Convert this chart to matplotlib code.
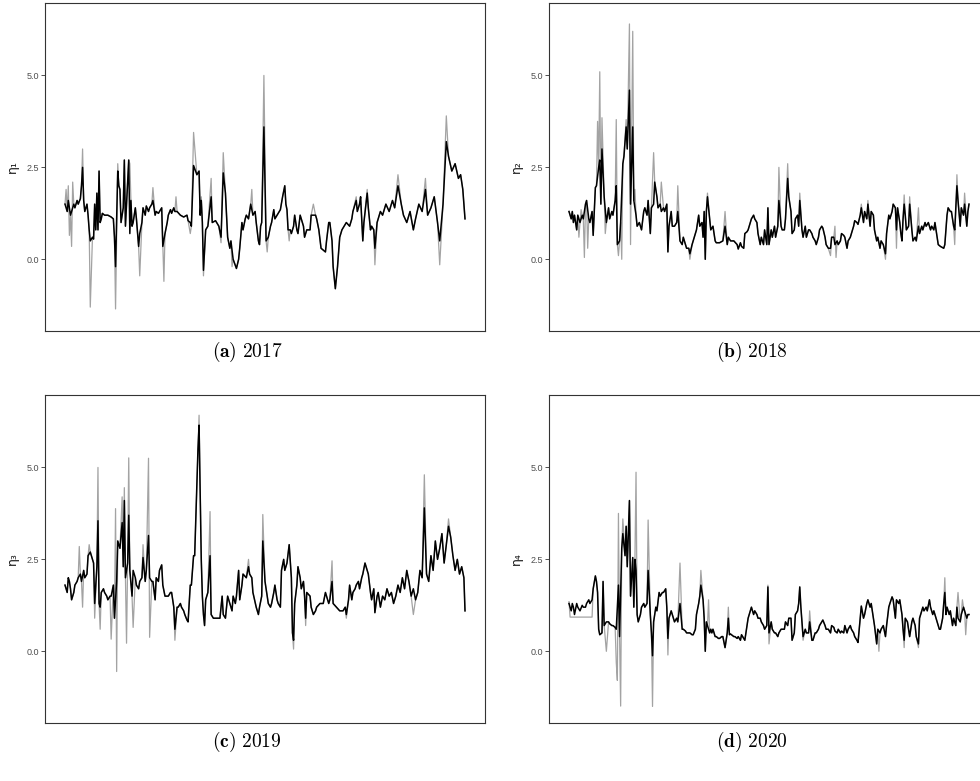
import matplotlib
matplotlib.use("Agg")
import matplotlib.pyplot as plt

# ---------------- data (day of year, value) ----------------
A_BLACK = [(1,1.5),(3,1.3),(4,1.6),(6,1.2),(7,1.3),(9,1.5),(10,1.4),(12,1.6),(13,1.5),(15,1.65),
 (16,2.0),(17,2.5),(18,1.6),(19,1.3),(21,1.5),(22,1.2),(23,0.8),(24,0.5),(26,0.6),(27,0.55),
 (28,1.5),(29,0.8),(30,1.8),(31,0.8),(32,2.4),(33,1.0),(34,1.1),(35,1.25),(37,1.2),(40,1.2),
 (43,1.15),(45,1.1),(46,0.6),(47,-0.2),(49,2.4),(50,2.0),(51,1.9),(52,1.0),(54,1.4),(55,2.7),
 (56,0.9),(57,1.5),(59,2.7),(60,0.7),(61,1.6),(62,0.9),(63,1.0),(65,1.4),(66,1.1),(68,0.35),
 (69,0.7),(71,1.0),(72,1.4),(74,1.2),(75,1.45),(77,1.3),(78,1.4),(80,1.5),(81,1.6),(83,1.2),
 (84,1.3),(86,1.25),(87,1.3),(89,1.4),(90,0.35),(92,0.7),(94,1.0),(95,1.2),(97,1.35),(98,1.25),
 (100,1.4),(101,1.3),(103,1.3),(106,1.2),(109,1.15),(112,1.2),(113,1.05),(115,1.0),(116,0.9),(118,2.55),
 (121,2.3),(123,2.4),(124,1.2),(125,1.6),(126,1.0),(127,-0.3),(129,0.8),(131,0.9),(134,1.7),(135,1.0),
 (138,1.05),(141,0.9),(143,0.6),(145,2.35),(147,1.8),(149,0.6),(151,0.3),(152,0.5),(154,0.0),(157,-0.25),
 (159,0.0),(160,0.3),(162,1.0),(163,0.8),(165,1.1),(166,1.2),(168,1.1),(170,1.5),(172,1.2),(174,1.3),
 (175,1.0),(177,0.5),(178,0.4),(179,0.9),(180,1.0),(182,3.6),(184,0.5),(186,0.6),(188,0.9),(189,1.0),
 (191,1.35),(192,1.1),(194,1.2),(197,1.35),(199,1.7),(201,2.0),(202,1.5),(203,1.35),(204,0.8),(206,0.8),
 (207,0.7),(209,0.9),(210,1.2),(212,0.8),(213,0.7),(215,1.2),(218,0.9),(219,0.6),(221,0.8),(224,0.8),
 (225,1.2),(229,1.2),(230,1.1),(232,0.8),(234,0.3),(236,0.25),(238,0.2),(239,0.5),(241,1.0),(242,1.0),
 (244,0.5),(245,-0.2),(247,-0.8),(249,-0.2),(251,0.6),(253,0.8),(255,0.9),(257,1.0),(260,0.9),(262,1.1),
 (263,1.3),(266,1.6),(267,1.3),(269,1.5),(270,1.7),(272,0.5),(273,1.0),(276,1.8),(277,1.4),(279,0.8),
 (280,0.9),(282,0.8),(283,0.3),(285,1.0),(286,1.1),(288,1.3),(290,1.2),(293,1.5),(296,1.3),(299,1.6),
 (301,1.4),(304,2.0),(307,1.5),(309,1.2),(312,1.0),(315,1.3),(318,0.8),(320,1.1),(323,1.5),(326,1.3),
 (329,1.9),(331,1.2),(334,1.4),(337,1.7),(340,1.0),(342,0.5),(345,1.5),(348,3.2),(350,2.8),(353,2.4),
 (356,2.6),(359,2.2),(361,2.3),(363,1.9),(365,1.1)]
A_GRAY_SPIKES = {2:1.9, 4:2.0, 5:0.65, 7:0.35, 8:2.1, 17:3.0, 24:-1.3, 47:-1.35, 49:2.6, 60:2.6,
 69:-0.45, 81:1.95, 91:-0.6, 102:1.7, 115:0.7, 118:3.45, 125:1.7, 127:-0.45, 134:2.2, 143:0.45,
 145:2.9, 153:-0.2, 171:1.9, 182:5.0, 185:0.2, 205:0.5, 227:1.5, 266:1.7, 276:1.9, 283:-0.15,
 304:2.3, 329:2.2, 342:-0.15, 348:3.9}

B_BLACK = [(1,1.3),(3,1.1),(4,1.3),(5,1.0),(6,1.2),(8,0.8),(9,1.2),(11,1.0),(13,1.2),(14,1.1),
 (16,1.5),(17,1.6),(19,1.1),(20,1.0),(22,1.3),(23,0.65),(25,1.95),(26,2.0),(28,2.5),(29,2.7),
 (30,1.5),(31,3.0),(33,1.7),(35,1.0),(37,1.4),(38,1.1),(40,1.3),(41,1.2),(43,1.6),(44,2.0),
 (45,0.4),(47,0.5),(48,1.0),(50,2.6),(51,2.8),(53,3.6),(54,3.0),(56,4.6),(57,1.5),(59,3.6),
 (60,1.6),(62,1.2),(63,0.9),(65,1.0),(67,0.8),(69,1.3),(70,1.4),(72,1.2),(73,1.6),(75,0.7),
 (76,1.4),(78,1.5),(79,2.1),(81,1.7),(82,1.4),(84,1.5),(85,1.3),(87,1.4),(88,1.3),(90,1.5),
 (91,0.2),(92,0.9),(94,1.3),(95,0.9),(97,0.9),(99,1.0),(100,1.3),(102,0.5),(104,0.4),(105,0.6),
 (107,0.4),(108,0.3),(110,0.3),(111,0.15),(113,0.4),(114,0.5),(116,0.7),(117,0.8),(119,1.2),(120,0.9),
 (122,1.0),(123,0.6),(124,1.3),(125,0.0),(126,1.3),(127,1.7),(129,1.1),(130,0.8),(132,0.9),(134,0.5),
 (135,0.45),(138,0.45),(141,0.5),(143,0.9),(145,0.4),(146,0.6),(148,0.5),(151,0.5),(154,0.4),(155,0.28),
 (157,0.45),(158,0.35),(160,0.3),(161,0.7),(163,0.75),(164,0.8),(166,1.0),(167,1.1),(169,1.2),(170,1.1),
 (172,1.0),(173,0.7),(175,0.4),(176,0.6),(178,0.4),(179,0.8),(181,0.4),(182,1.4),(183,0.4),(185,0.8),
 (186,0.6),(188,0.9),(189,0.6),(191,0.9),(192,1.6),(194,0.9),(195,0.8),(197,0.8),(198,1.1),(200,2.2),
 (201,1.7),(203,1.3),(204,0.7),(206,0.8),(207,1.1),(209,1.2),(210,0.9),(211,1.6),(213,0.8),(214,0.6),
 (216,0.9),(217,0.6),(219,0.8),(220,0.8),(222,0.7),(223,0.6),(225,0.5),(226,0.4),(228,0.6),(229,0.8),
 (231,0.9),(232,0.85),(234,0.6),(235,0.4),(237,0.3),(239,0.3),(240,0.6),(242,0.6),(243,0.4),(245,0.5),
 (246,0.4),(248,0.5),(249,0.7),(251,0.65),(252,0.6),(254,0.3),(255,0.5),(257,0.6),(258,0.7),(260,0.9),
 (261,1.05),(263,1.0),(264,0.95),(266,1.2),(267,1.4),(269,1.0),(270,1.3),(272,1.1),(273,1.5),(275,0.9),
 (276,1.3),(278,1.2),(279,0.8),(281,0.5),(282,0.6),(284,0.3),(285,0.5),(287,0.4),(289,0.15),(290,0.7),
 (292,1.2),(293,1.1),(295,1.3),(296,1.5),(298,1.4),(299,0.8),(300,1.4),(302,1.0),(303,0.7),(304,0.5),
 (305,1.1),(306,1.5),(307,1.2),(308,0.8),(310,0.9),(311,1.5),(313,0.8),(314,0.5),(316,0.6),(317,0.5),
 (319,0.9),(320,0.7),(322,0.9),(323,0.8),(325,1.0),(326,0.9),(328,1.0),(330,0.8),(331,0.9),(333,0.8),
 (334,1.0),(336,0.6),(337,0.4),(339,0.35),(342,0.3),(343,0.4),(345,1.2),(346,1.4),(348,1.3),(349,1.3),
 (351,0.9),(352,0.8),(354,2.0),(355,1.6),(357,0.9),(358,1.4),(360,1.2),(361,1.5),(363,0.9),(364,1.3),
 (365,1.5)]
B_GRAY_SPIKES = {10:0.6, 12:1.35, 15:0.05, 18:0.3, 27:3.75, 29:5.1, 31:3.85, 34:0.7, 44:3.8, 46:0.1,
 49:0.0, 53:3.8, 56:6.4, 57:0.4, 59:6.2, 61:1.9, 78:2.9, 85:2.1, 100:2.0, 111:0.0, 127:1.8, 143:1.3,
 192:2.5, 200:2.6, 211:1.8, 239:0.1, 243:0.9, 244:0.05, 267:1.5, 273:1.6, 289:0.0, 299:0.3, 306:1.75,
 311:1.7, 319:1.4, 352:0.4, 354:2.3, 361:1.8}

C_BLACK = [(1,1.8),(3,1.6),(4,2.0),(5,1.9),(6,1.7),(7,1.4),(9,1.6),(10,1.8),(12,1.9),(13,2.0),
 (15,2.1),(16,1.9),(18,2.2),(19,2.0),(21,2.1),(22,2.6),(24,2.7),(25,2.6),(27,2.4),(28,1.3),
 (30,2.3),(31,3.55),(32,1.3),(33,1.2),(34,1.6),(36,1.7),(37,1.6),(39,1.5),(40,1.4),(42,1.5),
 (43,1.5),(45,1.8),(46,0.9),(48,1.9),(49,3.0),(51,2.8),(53,3.5),(54,2.3),(55,4.1),(56,2.0),
 (58,2.4),(59,3.7),(60,2.2),(62,1.5),(63,2.2),(65,2.0),(66,1.8),(68,1.7),(69,1.9),(71,2.0),
 (72,2.55),(74,1.9),(75,2.2),(77,3.15),(78,2.0),(80,1.9),(81,1.9),(83,1.4),(84,2.0),(86,1.9),
 (87,2.2),(89,2.35),(90,1.8),(92,1.5),(94,1.5),(95,1.5),(97,1.6),(98,1.6),(100,1.2),(101,0.6),
 (103,1.2),(104,1.2),(106,1.3),(107,1.2),(109,1.1),(110,1.0),(112,0.85),(113,0.8),(115,1.8),(116,1.8),
 (118,2.6),(119,2.6),(121,4.5),(122,5.5),(123,6.15),(125,2.5),(126,1.5),(127,1.0),(128,0.7),(129,1.4),
 (131,1.6),(133,2.6),(134,1.0),(136,0.9),(139,0.9),(142,0.9),(144,1.5),(145,1.0),(147,0.9),(149,1.5),
 (151,1.3),(153,1.1),(154,1.5),(156,1.3),(157,1.5),(159,2.2),(160,1.4),(162,1.8),(163,2.1),(166,2.0),
 (168,2.3),(169,2.1),(171,2.0),(172,1.6),(175,1.2),(177,1.0),(178,1.2),(180,1.5),(181,3.0),(183,1.9),
 (185,1.5),(186,1.3),(188,1.2),(189,1.3),(191,1.6),(192,1.8),(194,1.4),(195,1.3),(197,1.2),(198,2.2),
 (200,2.5),(201,2.2),(203,2.4),(205,2.9),(207,2.0),(208,0.5),(209,0.3),(210,1.3),(212,1.8),(213,2.3),
 (215,2.0),(216,1.7),(218,1.9),(219,1.5),(220,0.9),(221,1.6),(224,1.5),(225,1.2),(227,1.0),(229,1.1),
 (230,1.2),(233,1.3),(236,1.3),(238,1.6),(239,1.5),(241,1.3),(242,1.4),(244,1.9),(245,1.3),(248,1.2),
 (251,1.1),(254,1.1),(256,1.2),(257,1.0),(259,1.4),(260,1.8),(262,1.4),(263,1.6),(265,1.7),(266,1.8),
 (268,1.9),(269,1.7),(271,2.0),(272,2.1),(274,2.4),(276,2.2),(277,2.1),(279,1.6),(280,1.4),(282,1.7),
 (283,1.05),(285,1.5),(286,1.6),(288,1.2),(290,1.5),(292,1.4),(294,1.7),(296,1.5),(298,1.6),(300,1.3),
 (302,1.5),(304,1.8),(306,1.6),(308,2.0),(310,1.7),(312,2.2),(314,1.9),(316,1.5),(318,1.7),(320,1.4),
 (322,1.6),(324,2.2),(326,2.0),(328,3.9),(330,2.1),(332,1.9),(334,2.6),(336,2.2),(338,3.0),(340,2.5),
 (342,2.8),(344,3.2),(346,2.4),(348,2.9),(350,3.4),(352,3.1),(354,2.6),(356,2.2),(358,2.5),(360,2.1),
 (362,2.3),(364,2.0),(365,1.1)]
C_GRAY_SPIKES = {14:2.85, 17:1.2, 23:2.9, 28:0.9, 31:5.0, 33:0.6, 43:0.33, 47:3.88, 48:-0.55, 53:4.2,
 55:4.45, 57:0.22, 59:5.26, 63:0.65, 72:2.9, 77:5.25, 78:0.38, 101:0.3, 123:6.42, 133:3.8, 168:2.5,
 181:3.72, 209:0.06, 220:0.7, 244:2.46, 257:0.9, 318:1.0, 328:4.8, 350:3.6}

D_BLACK = [(1,1.3),(3,1.1),(4,1.3),(5,1.2),(6,1.0),(8,1.3),(9,1.2),(11,1.1),(13,1.25),(14,1.2),
 (16,1.2),(17,1.3),(19,1.4),(20,1.3),(22,1.4),(23,1.7),(25,2.05),(26,1.9),(27,1.6),(28,0.6),
 (29,0.45),(31,0.5),(32,1.9),(33,0.7),(35,0.8),(37,0.8),(38,0.75),(40,0.7),(41,0.7),(43,0.65),
 (44,0.6),(46,1.8),(47,0.4),(49,2.8),(50,3.2),(52,2.6),(53,3.4),(54,2.3),(56,4.1),(57,1.5),
 (59,2.55),(60,1.2),(61,2.5),(62,2.2),(63,1.0),(64,0.8),(66,1.0),(67,1.2),(69,1.3),(70,1.2),
 (72,1.3),(73,2.2),(75,1.0),(76,0.5),(77,-0.12),(78,0.8),(80,1.2),(81,1.1),(83,1.6),(84,1.5),
 (86,1.6),(87,1.6),(89,1.7),(90,1.2),(91,0.35),(92,0.9),(94,1.1),(95,1.0),(96,0.9),(97,0.8),
 (99,0.9),(100,0.8),(102,1.3),(104,0.6),(105,0.6),(107,0.55),(108,0.5),(110,0.5),(111,0.5),(113,0.45),
 (114,0.45),(116,0.6),(117,1.0),(119,1.3),(120,1.5),(121,1.8),(123,1.4),(124,0.9),(125,0.0),(126,0.8),
 (127,0.7),(129,0.5),(130,0.6),(131,0.5),(132,0.6),(134,0.4),(135,0.4),(137,0.35),(138,0.35),(140,0.4),
 (141,0.4),(143,0.1),(145,0.5),(146,0.9),(147,0.45),(148,0.47),(151,0.4),(152,0.4),(154,0.35),(155,0.4),
 (157,0.3),(158,0.45),(160,0.35),(161,0.3),(163,0.7),(164,0.9),(166,1.1),(167,1.2),(169,1.0),(170,1.1),
 (172,1.0),(173,0.9),(175,0.9),(176,0.8),(178,0.7),(179,0.6),(181,0.7),(182,1.75),(183,0.5),(185,0.8),
 (186,0.6),(188,0.5),(189,0.5),(191,0.4),(192,0.5),(194,0.6),(195,0.6),(197,0.6),(198,0.8),(200,0.7),
 (201,0.9),(203,0.9),(204,0.3),(206,0.5),(207,1.0),(209,1.1),(210,1.3),(211,1.75),(212,1.2),(213,0.8),
 (214,0.4),(216,0.6),(217,0.5),(219,0.5),(220,0.8),(222,0.3),(223,0.3),(225,0.5),(226,0.5),(228,0.6),
 (229,0.7),(231,0.8),(232,0.85),(234,0.7),(235,0.6),(237,0.6),(239,0.5),(240,0.7),(242,0.65),(243,0.55),
 (245,0.5),(246,0.6),(248,0.5),(249,0.55),(251,0.5),(252,0.7),(254,0.5),(255,0.6),(257,0.7),(258,0.6),
 (260,0.5),(261,0.4),(263,0.3),(264,0.24),(266,0.9),(267,1.23),(269,0.9),(270,1.0),(272,1.3),(273,1.4),
 (275,1.2),(276,1.3),(278,0.9),(279,0.7),(281,0.2),(282,0.6),(284,0.5),(285,0.6),(287,0.7),(289,0.4),
 (290,0.7),(292,1.2),(293,1.3),(295,1.48),(296,1.4),(298,0.9),(299,1.4),(301,1.3),(302,1.4),(304,1.0),
 (305,0.6),(306,0.3),(307,0.9),(309,0.8),(310,0.6),(311,0.4),(313,0.8),(314,0.9),(316,0.7),(317,0.4),
 (319,0.2),(320,0.9),(321,1.0),(323,1.2),(324,1.1),(326,1.2),(327,1.1),(329,1.4),(330,1.2),(332,1.0),
 (333,1.1),(335,0.9),(336,0.8),(338,0.6),(339,0.6),(341,0.9),(342,1.3),(343,1.6),(344,1.0),(345,1.2),
 (347,1.0),(348,1.1),(350,0.7),(351,0.9),(353,0.7),(354,1.2),(355,0.9),(357,0.8),(358,1.0),(360,1.2),
 (361,1.1),(363,0.9),(364,1.0),(365,1.0)]
D_GRAY_SPIKES = {1:1.35, 2:0.93, 3:0.93, 4:0.93, 5:0.93, 6:0.93, 8:0.93, 9:0.93, 11:0.93, 13:0.93,
 14:0.93, 16:0.93, 17:0.93, 19:0.93, 20:0.93, 22:0.93, 35:0.0, 44:-0.3, 45:-0.79, 46:3.75, 48:-1.49,
 50:3.6, 62:4.87, 73:3.57, 77:-1.5, 91:-0.1, 102:2.4, 121:2.2, 128:1.4, 146:1.2, 182:1.8, 183:0.2,
 204:0.3, 214:0.3, 220:1.1, 283:0.0, 306:0.1, 319:0.1, 343:2.0, 355:1.6, 359:1.4, 362:0.45}

Y_TICKS = [0.0, 2.5, 5.0]
Y_TICK_LABELS = ["0.0", "2.5", "5.0"]
Y_LABELS = ["η₁", "η₂", "η₃", "η₄"]
CAPTION_LETTERS = ["(a)", "(b)", "(c)", "(d)"]
YEARS = ["2017", "2018", "2019", "2020"]

PANELS = [(A_BLACK, A_GRAY_SPIKES), (B_BLACK, B_GRAY_SPIKES),
          (C_BLACK, C_GRAY_SPIKES), (D_BLACK, D_GRAY_SPIKES)]


def gray_series(black, spikes):
    d = dict(black)
    d.update(spikes)
    ks = sorted(d)
    return ks, [d[k] for k in ks]


W, H = 980, 781
fig = plt.figure(figsize=(W / 100, H / 100), dpi=100)
fig.patch.set_facecolor("white")

# axes rectangles in pixels: left, top, right, bottom
RECTS = [(45, 3, 485, 331), (549, 3, 989, 331), (45, 395, 485, 723), (549, 395, 989, 723)]
CAP_POS = [(247, 352), (752, 352), (247, 742), (752, 742)]

for i, ((black, spikes), (l, t, r, b)) in enumerate(zip(PANELS, RECTS)):
    ax = fig.add_axes([l / W, (H - b) / H, (r - l) / W, (b - t) / H])
    gx, gy = gray_series(black, spikes)
    bx = [p[0] for p in black]
    by = [p[1] for p in black]
    ax.plot(gx, gy, color="#a3a3a3", lw=0.9)
    ax.plot(bx, by, color="black", lw=1.1)
    ax.set_xlim(1 - 0.05 * 364, 365 + 0.05 * 364)
    ax.set_ylim(-1.95, 6.97)
    ax.set_xticks([])
    ax.set_yticks(Y_TICKS)
    ax.set_yticklabels(Y_TICK_LABELS, fontsize=6.5, color="#4d4d4d",
                       family=["Liberation Sans", "DejaVu Sans"])
    ax.tick_params(axis="y", length=3, width=0.6, color="#333333", pad=1.5)
    for s in ax.spines.values():
        s.set_color("#333333")
        s.set_linewidth(0.8)
    ax.set_ylabel(Y_LABELS[i], fontsize=9, color="#1a1a1a", family=["DejaVu Sans"])
    ax.yaxis.set_label_coords(-0.06, 0.5)
    cx, cy = CAP_POS[i]
    fig.text(cx / W, 1 - cy / H,
             r"$\mathbf{" + CAPTION_LETTERS[i] + r"}\ \mathrm{" + YEARS[i] + r"}$",
             ha="center", va="center", fontsize=14, math_fontfamily="cm")

fig.savefig("out.png", dpi=100, facecolor="white")
